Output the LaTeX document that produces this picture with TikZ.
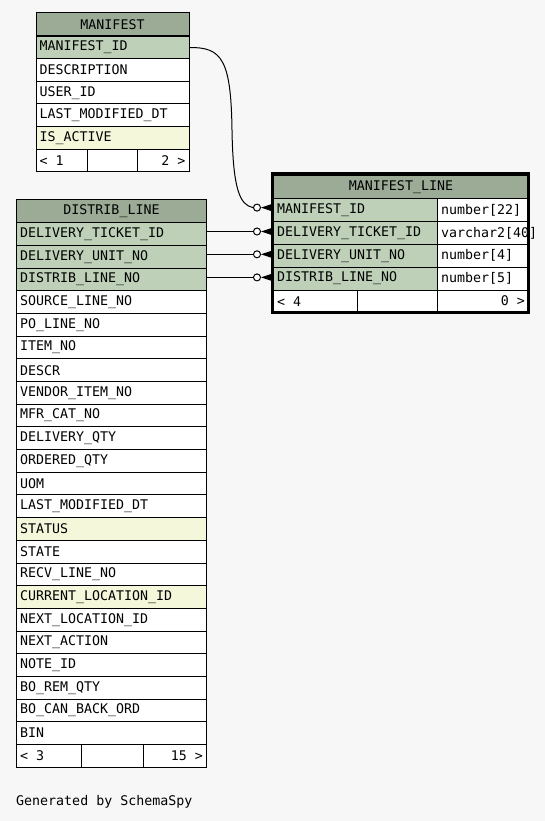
\documentclass[tikz,border=0pt]{standalone}
\usepackage{fontspec}
\newfontfamily\tabfontfam{DejaVu Sans Mono}
\newcommand\tabfont{\tabfontfam\fontsize{13.3}{14}\selectfont}
\newcommand\msp{\hphantom{x}}
\usetikzlibrary{calc}
\definecolor{bgc}{HTML}{F7F7F7}
\definecolor{hdr}{HTML}{9BAB96}
\definecolor{keyc}{HTML}{BED1B8}
\definecolor{idx}{HTML}{F4F7DA}
\tikzset{
  row/.style={draw=black, line width=1pt, anchor=north west, inner xsep=3.5pt, inner ysep=0pt,
    minimum height=#1, align=left, font=\tabfont, fill=white},
  row/.default=22.7pt,
  ttl/.style={row=#1, fill=hdr, align=center},
  ttl/.default=23.5pt,
  rgt/.style={row=#1, align=right},
  rgt/.default=22.7pt,
  zero/.style={circle, draw=black, fill=white, line width=1pt, inner sep=0pt, minimum size=7pt},
  conn/.style={draw=black, line width=1pt},
  foot/.style={fill=black}
}
\begin{document}
\begin{tikzpicture}[x=1pt,y=-1pt]
\fill[bgc] (0,0) rectangle (545,821);
\useasboundingbox (0,0) rectangle (545,821);

% MANIFEST
\node[ttl, text width=146pt] (mt) at (35.5,12) {MANIFEST};
\foreach \t/\c [count=\i from 1] in {MANIFEST\_ID/keyc, DESCRIPTION/white, USER\_ID/white, LAST\_MODIFIED\_DT/white, IS\_ACTIVE/idx} {
  \node[row, text width=146pt, fill=\c] (m\i) at (35.5,{35.7+22.6*(\i-1)}) {\t};
}
\node[row, text width=44.8pt] (mfa) at (35.5,148.7) {<\msp 1};
\node[row, text width=43pt] (mfb) at (87.3,148.7) {};
\node[rgt, text width=44.2pt] (mfc) at (137.3,148.7) {2\msp >};

% DISTRIB_LINE
\node[ttl, text width=183pt] (dt) at (16,199) {DISTRIB\_LINE};
\foreach \t/\c [count=\i from 1] in {DELIVERY\_TICKET\_ID/keyc, DELIVERY\_UNIT\_NO/keyc, DISTRIB\_LINE\_NO/keyc,
  SOURCE\_LINE\_NO/white, PO\_LINE\_NO/white, ITEM\_NO/white, DESCR/white, VENDOR\_ITEM\_NO/white,
  MFR\_CAT\_NO/white, DELIVERY\_QTY/white, ORDERED\_QTY/white, UOM/white, LAST\_MODIFIED\_DT/white,
  STATUS/idx, STATE/white, RECV\_LINE\_NO/white, CURRENT\_LOCATION\_ID/idx, NEXT\_LOCATION\_ID/white,
  NEXT\_ACTION/white, NOTE\_ID/white, BO\_REM\_QTY/white, BO\_CAN\_BACK\_ORD/white, BIN/white} {
  \node[row, text width=183pt, fill=\c] (d\i) at (16,{222.3+22.68*(\i-1)}) {\t};
}
\node[row, text width=57.7pt] (dfa) at (16,744) {<\msp 3};
\node[row, text width=55.6pt] (dfb) at (80.7,744) {};
\node[rgt, text width=55.7pt] (dfc) at (143.3,744) {15\msp >};

% MANIFEST_LINE
\node[ttl=23.3pt, text width=248pt] (lt) at (273,175) {MANIFEST\_LINE};
\foreach \t/\u [count=\i from 1] in {MANIFEST\_ID/number[22], DELIVERY\_TICKET\_ID/varchar2[40],
  DELIVERY\_UNIT\_NO/number[4], DISTRIB\_LINE\_NO/number[5]} {
  \node[row=22.8pt, text width=157pt, fill=keyc] (l\i) at (273,{198.3+22.8*(\i-1)}) {\t};
  \node[row=22.8pt, text width=84pt] (u\i) at (437,{198.3+22.8*(\i-1)}) {\mbox{\u}};
}
\node[row=22.3pt, text width=76.7pt] (lfa) at (273,289.5) {<\msp 4};
\node[row=22.3pt, text width=73.3pt] (lfb) at (356.7,289.5) {};
\node[rgt=22.3pt, text width=84pt] (lfc) at (437,289.5) {0\msp >};
\draw[line width=3pt] (272.5,173.2) rectangle (528.5,312.5);

% connectors
\node[zero] (z1) at (257,207.6) {};
\node[zero] (z2) at (257,231.5) {};
\node[zero] (z3) at (257,254.3) {};
\node[zero] (z4) at (257,277.4) {};
\coordinate (cmid) at (232,130);
\draw[conn] (m1.east) .. controls (222,47) and (231,60) .. (cmid) .. controls (233,190) and (240,205) .. (z1.west);
\draw[conn] (d1.east |- z2) -- (z2.west);
\draw[conn] (d2.east |- z3) -- (z3.west);
\draw[conn] (d3.east |- z4) -- (z4.west);
\foreach \k in {1,2,3,4} {
  \fill[foot] (z\k.east) -- ($(l\k.west |- z\k)+(0,-4)$) -- ($(l\k.west |- z\k)+(0,4)$) -- cycle;
}

\node[font=\tabfont, anchor=west, inner sep=0pt] (gen) at (16,802) {Generated by SchemaSpy};
\end{tikzpicture}
\end{document}
